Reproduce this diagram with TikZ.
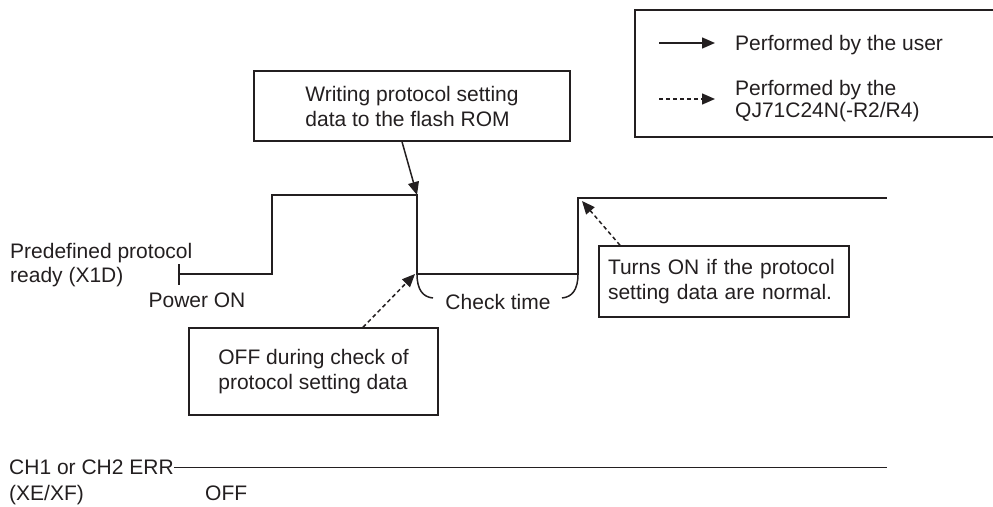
\documentclass[tikz,border=0pt]{standalone}
\usepackage{fontspec}
\setmainfont{Liberation Sans}
\usetikzlibrary{arrows.meta,calc}
\definecolor{ink}{RGB}{35,31,32}
\begin{document}
\begin{tikzpicture}[x=1pt,y=-1pt,
  every node/.style={font=\fontsize{21}{25}\selectfont, text=ink},
  wire/.style={draw=ink, line width=1.5pt},
  box/.style={draw=ink, line width=1.5pt, align=left},
  lbl/.style={inner sep=0pt, anchor=base west},
  usr/.style={draw=ink, line width=1.5pt, -{Triangle[length=13pt,width=11pt]}},
  sys/.style={usr, dash pattern=on 4pt off 3pt},
]
\useasboundingbox (0,0) rectangle (993,506);

% legend
\draw[wire] (993,10) -- (635,10) -- (635,137) -- (993,137);
\coordinate (l1a) at (659,43);
\coordinate (l1b) at (715,43);
\coordinate (l2a) at (659,99);
\coordinate (l2b) at (715,99);
\draw[usr] (l1a) -- (l1b);
\draw[sys] (l2a) -- (l2b);
\node[lbl] (lt1) at (735,50.5) {Performed by the user};
\node[lbl] (lt2) at (735,95.5) {Performed by the};
\node[lbl] (lt3) at (735,117.5) {QJ71C24N(-R2/R4)};

% waveform X1D
\coordinate (t0) at (179,274);
\coordinate (r1) at (272,274);
\coordinate (h1) at (272,195);
\coordinate (f1) at (417,195);
\coordinate (f2) at (417,274);
\coordinate (r2) at (578,274);
\coordinate (h2) at (578,198);
\coordinate (e2) at (887,198);
\draw[wire] (t0) -- (r1) -- (h1) -- (f1) -- (f2) -- (r2) -- (h2) -- (e2);
\draw[wire] ($(t0)+(0,-10)$) -- ($(t0)+(0,11)$);

\node[lbl] (pp1) at (10,258.5) {Predefined protocol};
\node[lbl] (pp2) at (10,282.5) {ready (X1D)};
\node (pon) at (197,300) {Power ON};

% check time bracket
\coordinate (ca) at (433,298);
\coordinate (cb) at (562,298);
\draw[wire] (f2) .. controls (417,290) and (423,297) .. (ca);
\draw[wire] (r2) .. controls (578,290) and (572,297) .. (cb);
\node (ct) at (498,302) {Check time};

% boxes
\node[box, minimum width=316pt, minimum height=70pt] (wbox) at (412,106)
  {Writing protocol setting\\data to the flash ROM};
\draw[usr] ($(wbox.south)+(-10,0)$) -- (f1);

\node[box, text width=232pt, inner xsep=9pt, minimum height=71pt] (tbox) at (724,281.5)
  {Turns ON if the protocol\\setting data are normal.};
\coordinate (tip2) at (582,201);
\draw[sys] ($(tbox.north)+(-104,0)$) -- (tip2);

\node[box, minimum width=249pt, minimum height=87pt] (obox) at (313.5,371.5)
  {OFF during check of\\protocol setting data};
\coordinate (tip1) at (415,274);
\draw[sys] ($(obox.north)+(49.5,0)$) -- (tip1);

% CH1/CH2 ERR
\node[lbl] (ch1) at (9,474.5) {CH1 or CH2 ERR};
\node[lbl] (ch2) at (9,500.5) {(XE/XF)};
\node[lbl] (off) at (205,500.5) {OFF};
\coordinate (chend) at (887,467);
\draw[wire] (ch1.east) -- (chend |- ch1.east);
\end{tikzpicture}
\end{document}
